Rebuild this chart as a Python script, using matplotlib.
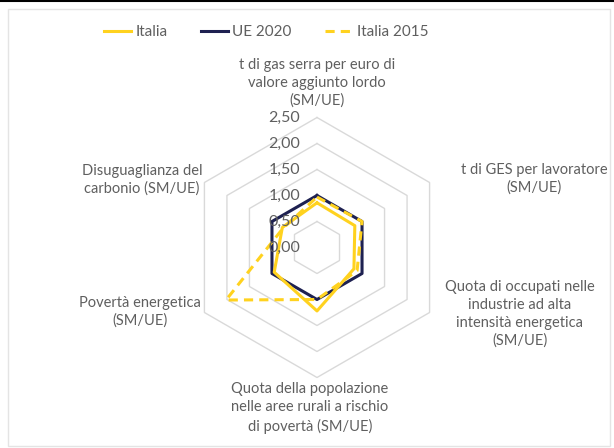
import numpy as np
import matplotlib
matplotlib.use("Agg")
import matplotlib.pyplot as plt
from matplotlib.lines import Line2D
from matplotlib.patches import Rectangle

plt.rcParams['font.family'] = ['Lato', 'DejaVu Sans']

categories = [
    "t di gas serra per euro di\nvalore aggiunto lordo\n(SM/UE)",
    "t di GES per lavoratore\n(SM/UE)",
    "Quota di occupati nelle\nindustrie ad alta\nintensità energetica\n(SM/UE)",
    "Quota della popolazione\nnelle aree rurali a rischio\ndi povertà (SM/UE)",
    "Povertà energetica\n(SM/UE)",
    "Disuguaglianza del\ncarbonio (SM/UE)",
]
italia = [0.86, 0.84, 0.82, 1.22, 0.95, 0.77]
ue_2020 = [1.00, 1.00, 1.00, 1.00, 1.00, 1.00]
italia_2015 = [0.97, 1.00, 0.89, 1.00, 2.02, 0.75]
rticks = [0.0, 0.5, 1.0, 1.5, 2.0, 2.5]
rtick_labels = ["0,00", "0,50", "1,00", "1,50", "2,00", "2,50"]

W, H = 614, 448
fig = plt.figure(figsize=(W / 100, H / 100), dpi=100)

# frame decorations
fig.add_artist(Line2D([0, 1], [1 - 1 / H, 1 - 1 / H], color='black', lw=1.5, transform=fig.transFigure))
fig.add_artist(Rectangle((8 / W, 2 / H), (W - 12) / W, (H - 11) / H, transform=fig.transFigure,
                         fill=False, edgecolor='#e4e4e4', lw=1.0))

cx, cy, R = 317, 247.5, 130
ax = fig.add_axes([(cx - R) / W, (H - cy - R) / H, 2 * R / W, 2 * R / H], projection='polar')
ax.set_theta_offset(np.pi / 2)
ax.set_theta_direction(-1)
ax.set_ylim(0, 2.5)
ax.grid(False)
ax.spines['polar'].set_visible(False)
ax.set_xticks([])
ax.set_yticks([])
ax.patch.set_alpha(0)

n = len(categories)
theta = np.linspace(0, 2 * np.pi, n, endpoint=False)
theta_c = np.concatenate([theta, theta[:1]])

for r in rticks[1:]:
    ax.plot(theta_c, [r] * (n + 1), color='#d9d9d9', lw=1.0, zorder=1, clip_on=False)

for r, lab in zip(rticks, rtick_labels):
    ax.annotate(lab, xy=(0, r), xytext=(-17, 0), textcoords='offset pixels',
                ha='right', va='center', fontsize=11.5, color='#5f5f5f', zorder=5,
                annotation_clip=False)

def closed(v):
    return list(v) + [v[0]]

l1, = ax.plot(theta_c, closed(italia), color='#FFD21F', lw=2.2, zorder=3, label='Italia')
l2, = ax.plot(theta_c, closed(ue_2020), color='#1E2151', lw=2.2, zorder=2, label='UE 2020')
l3, = ax.plot(theta_c, closed(italia_2015), color='#FFD21F', lw=2.2, ls=(0, (3, 2)), zorder=4, label='Italia 2015')

label_pos = [(317, 83), (534, 179), (520, 314), (310, 408), (140, 312), (142, 180)]
for lab, (x, y) in zip(categories, label_pos):
    fig.text(x / W, 1 - y / H, lab, ha='center', va='center', fontsize=10.5,
             color='#5f5f5f', linespacing=1.35)

fig.legend(handles=[l1, l2, l3], loc='center', bbox_to_anchor=(266 / W, 1 - 32 / H), ncol=3,
           frameon=False, fontsize=11, labelcolor='#5f5f5f', handlelength=1.8,
           handletextpad=0.25, columnspacing=2.2)

fig.savefig('out.png', dpi=100)
